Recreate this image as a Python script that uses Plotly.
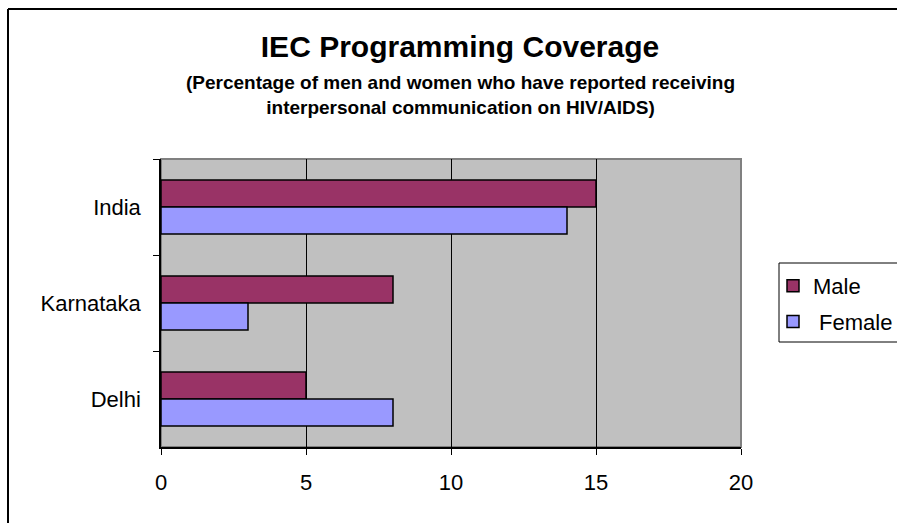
import plotly.graph_objects as go

# Coverage data (percent)
regions = ["India", "Karnataka", "Delhi"]
male = [15, 8, 5]
female = [14, 3, 8]
x_ticks = [0, 5, 10, 15, 20]

FONT = "Liberation Sans, Arial, sans-serif"

W, H = 897, 523
ML, MR, MT, MB = 161, 156, 159, 76
PW, PH = W - ML - MR, H - MT - MB


def px_to_paper_x(px):
    return (px - ML) / PW


def px_to_paper_y(py):
    return (H - MB - py) / PH


fig = go.Figure()
fig.add_trace(go.Bar(
    y=regions, x=male, name="Male", orientation="h",
    marker=dict(color="#993366", line=dict(color="black", width=1.5)),
    legendgroup="m",
))
fig.add_trace(go.Bar(
    y=regions, x=female, name=" Female", orientation="h",
    marker=dict(color="#9999FF", line=dict(color="black", width=1.5)),
    legendgroup="f",
))

shapes = [
    # plot-area outline (grey top/right edge)
    dict(type="rect", xref="paper", yref="paper", x0=0, y0=0, x1=1, y1=1,
         line=dict(color="#808080", width=2), layer="below"),
    # legend frame
    dict(type="rect", xref="paper", yref="paper",
         x0=px_to_paper_x(779), x1=px_to_paper_x(960),
         y0=px_to_paper_y(342), y1=px_to_paper_y(263),
         line=dict(color="black", width=1), fillcolor="rgba(0,0,0,0)"),
    # outer chart frame
    dict(type="line", xref="paper", yref="paper",
         x0=px_to_paper_x(8), x1=px_to_paper_x(8),
         y0=px_to_paper_y(9), y1=px_to_paper_y(560),
         line=dict(color="black", width=2)),
    dict(type="line", xref="paper", yref="paper",
         x0=px_to_paper_x(8), x1=px_to_paper_x(960),
         y0=px_to_paper_y(9), y1=px_to_paper_y(9),
         line=dict(color="black", width=2)),
]

fig.update_layout(
    width=W, height=H,
    margin=dict(l=ML, r=MR, t=MT, b=MB, autoexpand=False),
    paper_bgcolor="white",
    plot_bgcolor="#C0C0C0",
    barmode="group",
    bargap=0.44,
    bargroupgap=0,
    font=dict(family=FONT, size=22, color="black"),
    title=dict(
        text="<b>IEC Programming Coverage</b>",
        x=px_to_paper_x(460), xref="paper", xanchor="center",
        y=1 - 46 / H, yref="container", yanchor="middle",
        font=dict(family=FONT, size=30, color="black"),
    ),
    annotations=[dict(
        text="<b>(Percentage of men and women who have reported receiving<br>"
             "interpersonal communication on HIV/AIDS)</b>",
        xref="paper", yref="paper",
        x=px_to_paper_x(460), y=px_to_paper_y(95),
        xanchor="center", yanchor="middle", showarrow=False,
        font=dict(family=FONT, size=19, color="black"),
    )],
    shapes=shapes,
    xaxis=dict(
        range=[0, 20], tickvals=x_ticks, ticktext=[str(v) for v in x_ticks],
        showgrid=True, gridcolor="black", gridwidth=1,
        showline=True, linecolor="black", linewidth=1.5,
        ticks="outside", ticklen=6, tickcolor="black", tickwidth=1,
        zeroline=False, ticklabelstandoff=9,
    ),
    yaxis=dict(
        categoryorder="array", categoryarray=regions,
        autorange="reversed",
        showgrid=False,
        showline=True, linecolor="black", linewidth=1.5,
        ticks="outside", ticklen=6, tickcolor="black", tickwidth=1,
        tickson="boundaries", ticklabelstandoff=14,
    ),
    legend=dict(
        x=px_to_paper_x(773), y=px_to_paper_y(265),
        xanchor="left", yanchor="top",
        borderwidth=0, bgcolor="rgba(0,0,0,0)",
        font=dict(family=FONT, size=22, color="black"),
        traceorder="grouped", tracegroupgap=4,
    ),
    showlegend=True,
    hovermode=False,
)

fig.write_html("out.html", config={"displayModeBar": False})
